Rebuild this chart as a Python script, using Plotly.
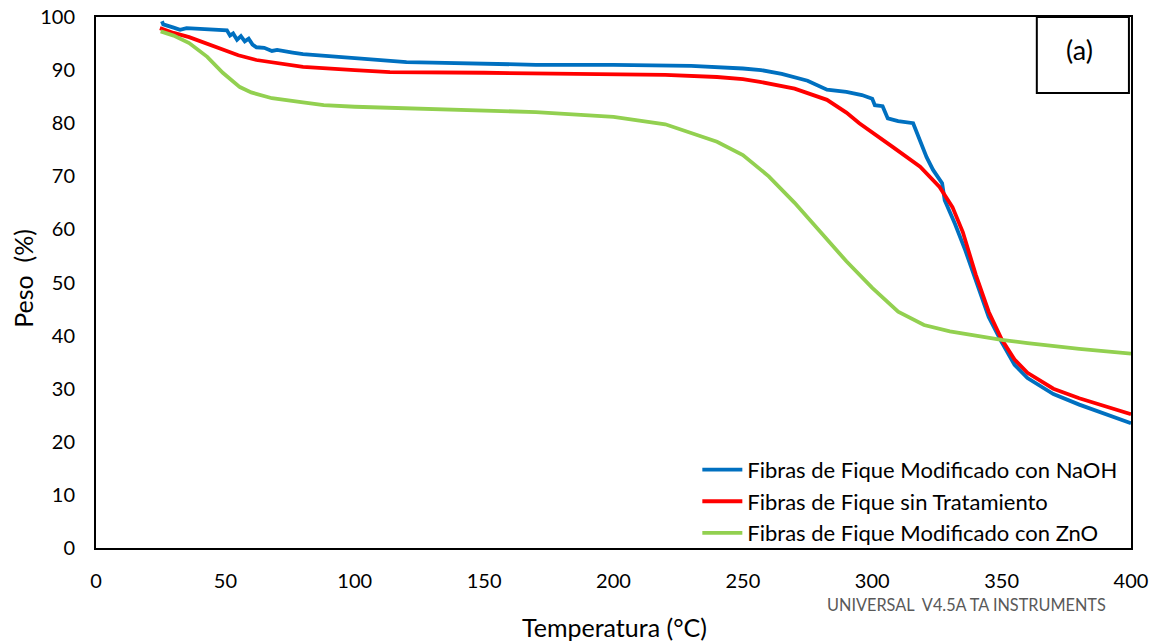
import plotly.graph_objects as go

# NaOH-modified fibres (blue)
t_naoh = [25.5, 26, 30, 32.5, 35, 40, 45, 50.6, 51.8, 53, 54.5, 56, 57.5, 59, 60.5, 62, 65, 68, 70, 74, 76, 80,
          90, 100, 103, 113.6, 120, 130, 150, 170, 200, 230, 250, 257, 265, 275, 282.5, 290, 296, 300, 301, 304,
          306, 310, 315.8, 318.5, 321, 323.5, 327, 328, 332, 336, 340, 345, 350, 355, 360, 370, 380, 390, 400]
w_naoh = [99.2, 98.6, 98.0, 97.6, 97.9, 97.8, 97.7, 97.5, 96.5, 96.9, 95.7, 96.4, 95.4, 95.9, 94.8, 94.3, 94.2, 93.6, 93.8, 93.4, 93.3, 93.0,
          92.6, 92.3, 92.2, 91.6, 91.5, 91.4, 91.2, 91.0, 91.0, 90.8, 90.3, 90.0, 89.3, 88.0, 86.3, 85.9, 85.3, 84.6, 83.4, 83.2,
          80.9, 80.4, 80.0, 76.8, 73.6, 71.2, 68.7, 65.5, 61.0, 56.0, 50.5, 43.5, 38.8, 34.5, 32.0, 29.0, 27.0, 25.2, 23.5]

# Untreated fibres (red)
t_sin = [24.7, 30, 36, 40, 49, 55, 62, 70, 75, 80, 100, 113.6, 150, 200, 220, 240, 250, 256.6, 265, 270, 282.5,
         290, 295, 300, 308, 318.5, 326, 331, 335, 340, 345, 350, 355, 360, 370, 380, 390, 400]
w_sin = [97.9, 97.0, 96.2, 95.5, 93.8, 92.8, 91.9, 91.3, 91.0, 90.6, 90.0, 89.6, 89.5, 89.3, 89.1, 88.7, 88.3, 87.8, 87.0, 86.5, 84.4,
         82.0, 80.0, 78.2, 75.5, 71.8, 68.0, 64.2, 59.5, 51.5, 44.5, 39.3, 35.5, 33.0, 30.0, 28.2, 26.7, 25.2]

# ZnO-modified fibres (green)
t_zno = [25, 30, 36, 43, 49, 55.6, 60, 68, 80, 88, 100, 113.6, 150, 170, 200, 220, 240, 250, 260, 270, 280,
         290, 300, 310, 320, 330, 340, 350, 360, 380, 400]
w_zno = [97.3, 96.5, 95.1, 92.5, 89.5, 86.8, 85.8, 84.7, 83.9, 83.4, 83.1, 82.9, 82.4, 82.1, 81.2, 79.8, 76.5, 74.0, 70.0, 65.0, 59.5,
         54.0, 49.0, 44.5, 42.0, 40.8, 40.0, 39.2, 38.6, 37.5, 36.6]

series_names = ["Fibras de Fique Modificado con NaOH",
                "Fibras de Fique sin Tratamiento",
                "Fibras de Fique Modificado con ZnO"]
series_colors = ["#0070C0", "#FF0000", "#92D050"]

x_ticks = [0, 50, 100, 150, 200, 250, 300, 350, 400]
y_ticks = [0, 10, 20, 30, 40, 50, 60, 70, 80, 90, 100]

FONT = "Lato"

fig = go.Figure()
for xs, ys, name, col in zip([t_naoh, t_sin, t_zno], [w_naoh, w_sin, w_zno], series_names, series_colors):
    fig.add_trace(go.Scatter(x=xs, y=ys, mode="lines", name=name,
                             line=dict(color=col, width=3.8, shape="linear")))

fig.update_layout(
    width=1160, height=644,
    margin=dict(l=96, r=29, t=17, b=96, autoexpand=False),
    paper_bgcolor="white", plot_bgcolor="white",
    font=dict(family=FONT, size=20, color="black"),
    showlegend=True,
    legend=dict(x=0.581, y=-0.011, xanchor="left", yanchor="bottom",
                bgcolor="rgba(255,255,255,0)", font=dict(size=22, family=FONT),
                tracegroupgap=0, itemwidth=40),
    xaxis=dict(range=[0, 400], tickvals=x_ticks, ticks="", showgrid=False, zeroline=False,
               showline=True, linecolor="black", linewidth=2, mirror=True, automargin=False,
               tickfont=dict(size=20), ticklabelstandoff=14),
    yaxis=dict(range=[0, 100], tickvals=y_ticks, ticks="", showgrid=False, zeroline=False,
               showline=True, linecolor="black", linewidth=2, mirror=True, automargin=False,
               tickfont=dict(size=20), ticklabelstandoff=15),
)

# axis titles
fig.add_annotation(xref="paper", yref="paper", x=0.5005, y=-0.149, text="Temperatura (°C)",
                   showarrow=False, xanchor="center", yanchor="middle",
                   font=dict(size=25, family=FONT, color="black"))
fig.add_annotation(xref="paper", yref="paper", x=-0.0705, y=0.507, text="Peso  (%)",
                   showarrow=False, xanchor="center", yanchor="middle", textangle=-90,
                   font=dict(size=25, family=FONT, color="black"))

# "(a)" label box
fig.add_shape(type="rect", xref="paper", yref="paper",
              x0=0.909, x1=0.998, y0=0.857, y1=1.0,
              line=dict(color="black", width=2), fillcolor="white")
fig.add_annotation(xref="paper", yref="paper", x=0.950, y=0.938, text="(a)",
                   showarrow=False, xanchor="center", yanchor="middle",
                   font=dict(size=27, family=FONT, color="black"))

# instrument note
fig.add_annotation(xref="paper", yref="paper", x=0.841, y=-0.107, text="UNIVERSAL  V4.5A TA INSTRUMENTS",
                   showarrow=False, xanchor="center", yanchor="middle",
                   font=dict(size=16.3, family=FONT, color="#595959"))

fig.write_html("out.html", config={"displayModeBar": False},
               post_script="document.body.style.margin='0';")
